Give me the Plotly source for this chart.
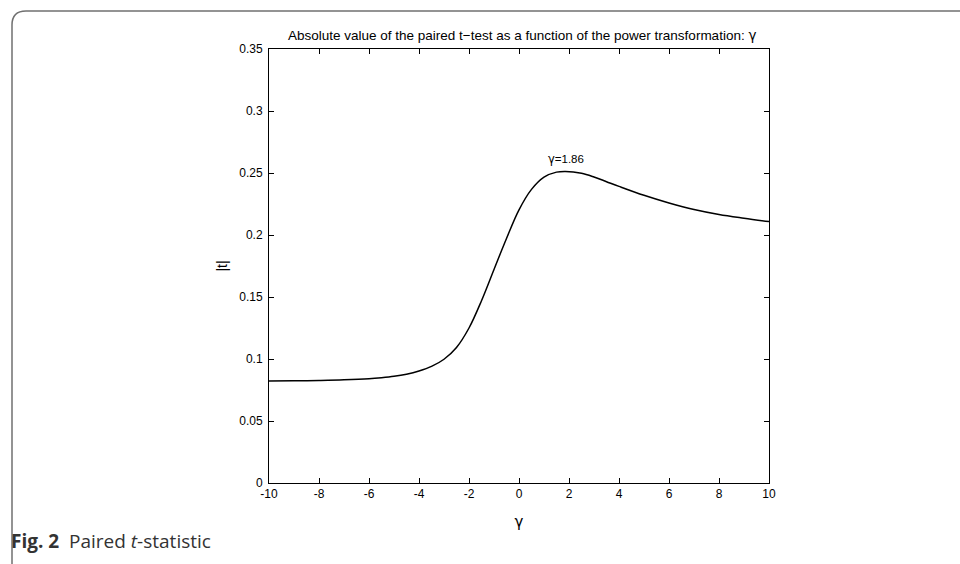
import plotly.graph_objects as go

# data
gamma = [-10, -9, -8, -7, -6, -5.5, -5, -4.5, -4, -3.5, -3, -2.5, -2, -1.5, -1, -0.5,
         0, 0.5, 1, 1.5, 1.86, 2.5, 3, 3.5, 4, 5, 6, 7, 8, 9, 10]
abs_t = [0.0822, 0.0824, 0.0827, 0.0832, 0.0841, 0.0849, 0.0860, 0.0877, 0.0903,
         0.0940, 0.0998, 0.1093, 0.1250, 0.1470, 0.1722, 0.1972, 0.2203, 0.2368,
         0.2467, 0.2507, 0.2513, 0.2498, 0.2468, 0.2430, 0.2392, 0.2320, 0.2258,
         0.2205, 0.2165, 0.2135, 0.2108]
x_ticks = [-10, -8, -6, -4, -2, 0, 2, 4, 6, 8, 10]
x_tick_labels = ["-10", "-8", "-6", "-4", "-2", "0", "2", "4", "6", "8", "10"]
y_ticks = [0, 0.05, 0.1, 0.15, 0.2, 0.25, 0.3, 0.35]
y_tick_labels = ["0", "0.05", "0.1", "0.15", "0.2", "0.25", "0.3", "0.35"]
peak_gamma = 1.86
peak_value = 0.2513
title_text = ("Absolute value of the paired t\u2212test as a function of the power transformation: "
              "<span style='font-family:DejaVu Sans'>\u03b3</span>")
peak_text = "<span style='font-family:DejaVu Sans'>\u03b3</span>=1.86"
caption = "<b>Fig. 2</b>\u00a0\u00a0Paired <i>t</i>-statistic"

W, H = 960, 564
L, R, T, B = 269, 769, 49, 483

def px(x):
    return (x - L) / (R - L)

def py(y):
    return (B - y) / (B - T)

fig = go.Figure()
fig.add_trace(go.Scatter(x=gamma, y=abs_t, mode="lines",
                         line=dict(color="black", width=1.5, shape="spline", smoothing=1.0),
                         showlegend=False, hoverinfo="skip"))

axfont = dict(family="Liberation Sans, Arial, sans-serif", size=12, color="black")
fig.update_layout(
    width=W, height=H,
    margin=dict(l=L, r=W - R, t=T, b=H - B, pad=0),
    paper_bgcolor="white", plot_bgcolor="white",
    font=axfont,
    xaxis=dict(range=[-10, 10], tickvals=x_ticks, ticktext=x_tick_labels,
               ticks="inside", ticklen=5, tickcolor="black", tickwidth=1,
               showline=True, linecolor="black", linewidth=1, mirror="ticks",
               showgrid=False, zeroline=False, tickfont=axfont,
               title=dict(text="\u03b3", font=dict(family="DejaVu Sans", size=15, color="black"),
                          standoff=16)),
    yaxis=dict(range=[0, 0.35], tickvals=y_ticks, ticktext=y_tick_labels,
               ticks="inside", ticklen=5, tickcolor="black", tickwidth=1,
               showline=True, linecolor="black", linewidth=1, mirror="ticks",
               showgrid=False, zeroline=False, tickfont=axfont, ticklabelstandoff=3,
               title=dict(text="|t|", font=dict(family="Liberation Sans, Arial", size=14, color="black"),
                          standoff=8)),
)

fig.add_annotation(x=peak_gamma, y=peak_value, text=peak_text, showarrow=False,
                   yshift=12, font=dict(family="Liberation Sans, Arial", size=11.5, color="black"))

fig.add_annotation(xref="paper", yref="paper", x=px(522), y=py(35), text=title_text,
                   showarrow=False, xanchor="center", yanchor="middle",
                   font=dict(family="Liberation Sans, Arial", size=13.5, color="black"))

fig.add_annotation(xref="paper", yref="paper", x=px(9), y=py(541), text=caption,
                   showarrow=False, xanchor="left", yanchor="middle",
                   font=dict(family="Open Sans, Noto Sans, sans-serif", size=19, color="#333333"))

# rounded frame (left and top edges)
x0, x1 = px(12), px(961)
y0, y1 = py(566), py(11)
cx, cy = px(26), py(25)
path = f"M {x0},{y0} L {x0},{cy} Q {x0},{y1} {cx},{y1} L {x1},{y1}"
fig.add_shape(type="path", xref="paper", yref="paper", path=path,
              line=dict(color="#707070", width=1.5))

fig.write_html("out.html")
